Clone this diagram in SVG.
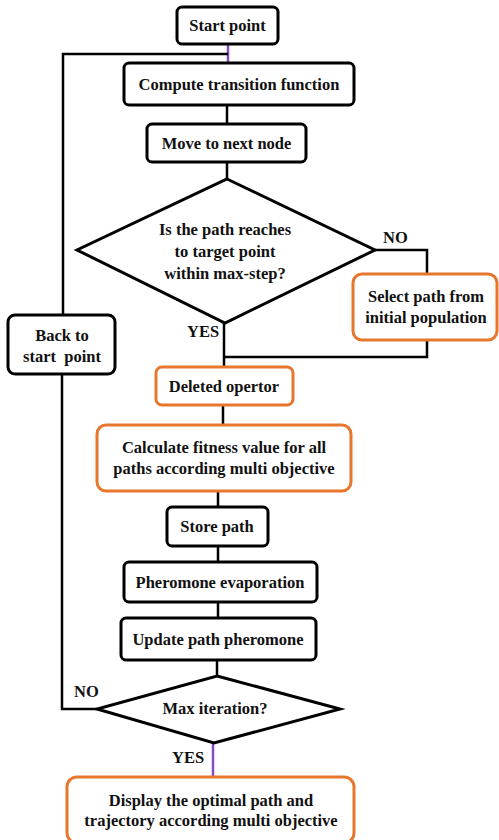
<svg xmlns="http://www.w3.org/2000/svg" width="499" height="840" viewBox="0 0 499 840">
<style>
.b{fill:#fff;stroke:#000;stroke-width:3}
.o{fill:#fff;stroke:#E8772E;stroke-width:3}
.c{fill:none;stroke:#000;stroke-width:2.5}
.p{fill:none;stroke:#8A4BBF;stroke-width:2.5}
text{font-family:"Liberation Serif","Times New Roman",serif;font-weight:bold;font-size:16.5px;fill:#111;text-anchor:middle}
.l{text-anchor:start}
</style>
<rect width="499" height="840" fill="#fff"/>
<g id="connectors">
<line class="p" x1="228" y1="44" x2="228" y2="63"/>
<polyline class="c" points="228,54 63,54 63,315"/>
<line class="c" x1="227" y1="105" x2="227" y2="124"/>
<line class="c" x1="227" y1="162" x2="227" y2="179"/>
<polyline class="c" points="375,250 427,250 427,274"/>
<polyline class="c" points="427,340 427,357 224,357"/>
<line class="c" x1="224" y1="323" x2="224" y2="367"/>
<line class="c" x1="223" y1="405" x2="223" y2="425"/>
<line class="c" x1="218" y1="491" x2="218" y2="507"/>
<line class="c" x1="218" y1="546" x2="218" y2="562"/>
<line class="c" x1="218" y1="602" x2="218" y2="618"/>
<line class="c" x1="217" y1="660" x2="217" y2="676"/>
<polyline class="c" points="62,374 62,709 97,709"/>
<line class="p" x1="213" y1="743" x2="213" y2="777"/>
<text class="l" x="383" y="243">NO</text>
<text class="l" x="187" y="337">YES</text>
<text class="l" x="74" y="697">NO</text>
<text class="l" x="172" y="763">YES</text>
</g>
<g id="start"><rect class="b" x="177" y="7" width="101" height="37" rx="5"/><text x="227.5" y="31">Start point</text></g>
<g id="compute"><rect class="b" x="124" y="63" width="230" height="42" rx="5"/><text x="239" y="90">Compute transition function</text></g>
<g id="move"><rect class="b" x="147" y="124" width="159" height="38" rx="5"/><text x="226.5" y="149">Move to next node</text></g>
<g id="decision1"><polygon class="b" points="227,179 375,250 225,323 77,250"/>
<text x="225" y="235">Is the path reaches</text><text x="225" y="257">to target point</text><text x="225" y="279">within max-step?</text></g>
<g id="select"><rect class="o" x="353" y="274" width="144" height="66" rx="9"/><text x="426" y="302">Select path from</text><text x="426" y="323">initial population</text></g>
<g id="back"><rect class="b" x="8" y="315" width="107" height="59" rx="7"/><text x="62" y="341">Back to</text><text x="62" y="362" xml:space="preserve">start  point</text></g>
<g id="deleted"><rect class="o" x="156" y="367" width="137" height="38" rx="6"/><text x="224" y="392">Deleted opertor</text></g>
<g id="fitness"><rect class="o" x="97" y="425" width="254" height="66" rx="9"/><text x="224" y="453">Calculate fitness value for all</text><text x="224" y="474">paths according multi objective</text></g>
<g id="store"><rect class="b" x="167" y="507" width="101" height="39" rx="5"/><text x="217" y="532">Store path</text></g>
<g id="evap"><rect class="b" x="124" y="562" width="193" height="40" rx="5"/><text x="220" y="588">Pheromone evaporation</text></g>
<g id="update"><rect class="b" x="121" y="618" width="195" height="42" rx="5"/><text x="218" y="645">Update path pheromone</text></g>
<g id="decision2"><polygon class="b" points="217,676 340,709 214,743 97,709"/><text x="215" y="714">Max iteration?</text></g>
<g id="display"><rect class="o" x="67" y="777" width="287" height="66" rx="10"/><text x="211" y="806">Display the optimal path and</text><text x="211" y="826">trajectory according multi objective</text></g>
</svg>
